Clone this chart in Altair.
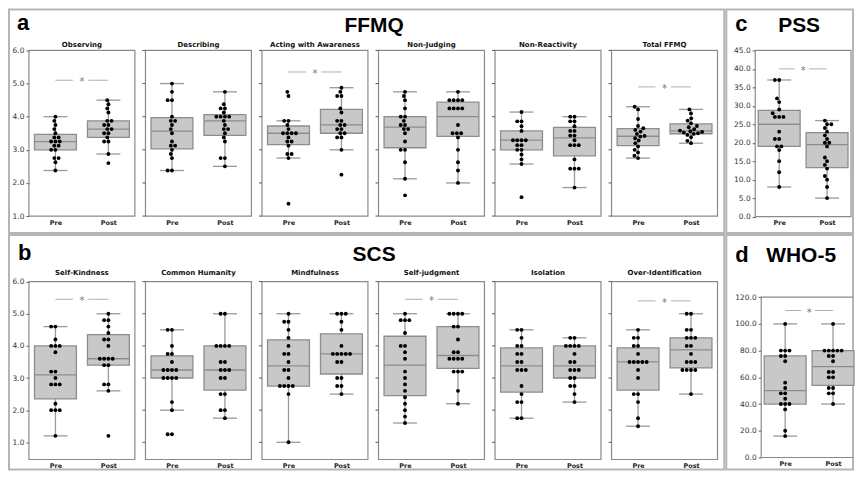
import numpy as np
import pandas as pd
import altair as alt

# ---------------- data ----------------
ffmq_names = ["Observing", "Describing", "Acting with Awareness", "Non-Judging", "Non-Reactivity", "Total FFMQ"]
observing_pre = [4.0, 3.875, 3.75, 3.625, 3.5, 3.375, 3.375, 3.25, 3.25, 3.25, 3.125, 3.125, 3.0, 3.0, 2.75, 2.75, 2.625, 2.375]
observing_post = [4.5, 4.375, 4.25, 4.125, 3.875, 3.875, 3.75, 3.75, 3.625, 3.625, 3.5, 3.5, 3.375, 3.25, 3.25, 2.875, 2.6]
describing_pre = [5.0, 4.75, 4.5, 4.5, 4.0, 3.875, 3.875, 3.75, 3.625, 3.5, 3.25, 3.125, 3.125, 3.0, 2.875, 2.75, 2.375, 2.375]
describing_post = [4.75, 4.375, 4.25, 4.25, 4.125, 4.0, 4.0, 4.0, 4.0, 3.875, 3.75, 3.625, 3.625, 3.5, 3.375, 3.25, 2.75, 2.75, 2.5]
acting_pre = [4.75, 4.625, 3.875, 3.875, 3.75, 3.625, 3.5, 3.5, 3.5, 3.5, 3.375, 3.25, 3.25, 3.125, 2.875, 2.875, 2.75, 1.375]
acting_post = [4.875, 4.75, 4.625, 4.625, 4.25, 4.125, 3.875, 3.875, 3.75, 3.75, 3.625, 3.625, 3.5, 3.5, 3.375, 3.375, 3.0, 2.25]
nonjudging_pre = [4.75, 4.625, 4.5, 4.25, 4.0, 4.0, 3.875, 3.75, 3.75, 3.625, 3.625, 3.5, 3.25, 3.0, 3.0, 2.625, 2.125, 1.625]
nonjudging_post = [4.75, 4.5, 4.5, 4.5, 4.5, 4.25, 4.25, 4.25, 4.25, 3.75, 3.5, 3.5, 3.5, 3.375, 3.0, 2.625, 2.375, 2.0]
nonreact_pre = [4.14, 3.86, 3.86, 3.71, 3.57, 3.29, 3.29, 3.29, 3.29, 3.14, 3.14, 3.0, 3.0, 2.86, 2.71, 2.57, 1.57]
nonreact_post = [4.0, 4.0, 3.86, 3.86, 3.71, 3.57, 3.57, 3.43, 3.43, 3.29, 3.14, 3.14, 3.14, 2.71, 2.43, 2.43, 2.43, 1.86]
total_pre = [4.3, 4.22, 3.93, 3.72, 3.65, 3.6, 3.55, 3.48, 3.42, 3.4, 3.35, 3.28, 3.2, 3.1, 3.0, 2.92, 2.82, 2.75]
total_post = [4.22, 4.1, 3.95, 3.88, 3.8, 3.72, 3.68, 3.62, 3.58, 3.56, 3.54, 3.52, 3.5, 3.48, 3.45, 3.38, 3.27, 3.2]
ffmq_sig = {"Observing": 5.1, "Acting with Awareness": 5.35, "Total FFMQ": 4.9}

scs_names = ["Self-Kindness", "Common Humanity", "Mindfulness", "Self-judgment", "Isolation", "Over-Identification"]
sk_pre = [4.6, 4.6, 4.2, 4.0, 4.0, 4.0, 3.8, 3.2, 3.2, 3.0, 2.8, 2.8, 2.8, 2.2, 2.0, 2.0, 2.0, 1.2]
sk_post = [5.0, 4.8, 4.8, 4.6, 4.4, 4.2, 4.2, 4.0, 3.6, 3.6, 3.6, 3.6, 3.4, 3.4, 2.8, 2.8, 2.6, 1.2]
ch_pre = [4.5, 4.5, 4.0, 3.75, 3.75, 3.5, 3.25, 3.25, 3.25, 3.25, 3.0, 3.0, 3.0, 3.0, 2.25, 2.0, 1.25, 1.25]
ch_post = [5.0, 5.0, 4.0, 4.0, 4.0, 4.0, 3.5, 3.5, 3.25, 3.25, 3.25, 3.0, 3.0, 2.5, 2.5, 2.0, 2.0, 1.75]
mi_pre = [5.0, 4.75, 4.75, 4.5, 4.25, 4.0, 3.75, 3.75, 3.5, 3.25, 3.25, 3.0, 2.75, 2.75, 2.75, 2.75, 2.5, 1.0]
mi_post = [5.0, 5.0, 5.0, 4.75, 4.5, 4.0, 3.75, 3.75, 3.75, 3.75, 3.75, 3.5, 3.5, 3.0, 3.0, 2.75, 2.75, 2.5]
sj_pre = [5.0, 4.8, 4.8, 4.8, 4.4, 4.0, 4.0, 3.8, 3.6, 3.2, 3.0, 2.8, 2.6, 2.4, 2.2, 2.0, 1.8, 1.6]
sj_post = [5.0, 5.0, 5.0, 5.0, 4.6, 4.6, 4.2, 3.8, 3.8, 3.6, 3.6, 3.6, 3.6, 3.2, 3.2, 3.2, 2.6, 2.2]
is_pre = [4.5, 4.5, 4.25, 4.0, 4.0, 3.75, 3.75, 3.5, 3.5, 3.25, 3.25, 3.25, 2.75, 2.5, 2.25, 2.25, 1.75, 1.75]
is_post = [4.25, 4.25, 4.0, 4.0, 4.0, 4.0, 3.75, 3.5, 3.5, 3.25, 3.25, 3.25, 3.0, 3.0, 2.75, 2.75, 2.5, 2.25]
oi_pre = [4.5, 4.25, 4.25, 4.0, 4.0, 3.75, 3.5, 3.5, 3.5, 3.5, 3.5, 3.25, 3.0, 2.5, 2.5, 2.25, 1.75, 1.5]
oi_post = [5.0, 5.0, 4.5, 4.5, 4.25, 4.25, 4.25, 4.0, 4.0, 3.75, 3.5, 3.5, 3.5, 3.25, 3.25, 3.25, 3.25, 2.5]
scs_sig = {"Self-Kindness": 5.45, "Self-judgment": 5.45, "Over-Identification": 5.4}

pss_pre = [37, 37, 32, 31, 29, 28, 27, 27, 27, 23, 21, 21, 19, 19, 18, 15, 12, 8]
pss_post = [26, 25, 25, 24, 23, 22, 21, 20, 20, 19, 16, 15, 14, 13, 11, 10, 8, 5]
pss_sig = {"PSS": 40}

who_pre = [100, 80, 80, 80, 76, 76, 72, 56, 52, 48, 48, 44, 40, 40, 40, 36, 20, 16]
who_post = [100, 80, 80, 80, 80, 80, 76, 76, 72, 64, 64, 60, 60, 52, 52, 48, 48, 40]
who_sig = {"WHO-5": 110}

time_labels = ["Pre", "Post"]

# ---------------- helpers ----------------
DOT_D = 4.3  # swarm spacing in px


def swarm_offsets(vals, ypx, d=DOT_D):
    vals = np.asarray(vals, float)
    order = np.argsort(vals, kind="stable")
    placed = []
    out = np.zeros(len(vals))
    for idx in order:
        y = vals[idx] * ypx
        neigh = [(py, px) for py, px in placed if abs(py - y) < d]
        cands = [0.0]
        for py, px in neigh:
            dx = np.sqrt(max(d * d - (py - y) ** 2, 0.0))
            cands += [px - dx, px + dx]
        cands.sort(key=lambda c: (round(abs(c), 6), c))
        for c in cands:
            if all((c - px) ** 2 + (y - py) ** 2 >= d * d - 1e-6 for py, px in neigh):
                out[idx] = c
                break
        placed.append((y, out[idx]))
    return out


def box_stats(vals):
    v = np.asarray(vals, float)
    q1, med, q3 = np.percentile(v, [25, 50, 75])
    iqr = q3 - q1
    lo = v[v >= q1 - 1.5 * iqr].min()
    hi = v[v <= q3 + 1.5 * iqr].max()
    return q1, med, q3, lo, hi


PITCH = 2.2
BOX_C = "#c8c8c8"
EDGE_C = "#8d8d8d"
WHISK_C = "#9a9a9a"


def section(names, pre, post, sig, ylo, yhi, yticks, W, H, pl, pt, pb, upx,
            letter, title, lpos, tpos, ptitle_y=None, bw_px=21.0, cap_px=12.0):
    sy = (pb - pt) / (yhi - ylo)
    ydom = [ylo - (H - pb) / sy, yhi + pt / sy]
    x0 = -(pl + 0.5 * upx) / upx
    xdom = [x0, x0 + W / upx]
    xs = alt.Scale(domain=xdom, nice=False, zero=False, padding=0)
    ys = alt.Scale(domain=ydom, nice=False, zero=False, padding=0)
    bw, cw = bw_px / upx, cap_px / upx

    xvals, pts, st, fr, sg, tk = [], [], [], [], [], []
    for i, name in enumerate(names):
        base = i * PITCH
        for k, vals in enumerate((pre[i], post[i])):
            c = base + k
            xvals.append(round(c, 4))
            off = swarm_offsets(vals, sy) / upx
            for v, o in zip(vals, off):
                pts.append({"panel": name, "time": time_labels[k], "xp": c + o, "value": v})
            q1, med, q3, lo, hi = box_stats(vals)
            st.append(dict(c=c, bl=c - bw, br=c + bw, cl=c - cw, cr=c + cw,
                           q1=q1, med=med, q3=q3, lo=lo, hi=hi))
        fr.append(dict(name=name, l=base - 0.5, r=base + 1.5, cx=base + 0.5, yb=ylo, yt=yhi))
        if name in sig:
            sg.append(dict(a1=base, a2=base + 0.33, b1=base + 0.62, b2=base + 1.0,
                           sx=base + 0.5, y=sig[name]))
        if i > 0:
            for t in yticks:
                tk.append(dict(t1=base - 0.5, t2=base - 0.5 - 3.0 / upx, y=t))

    xax = alt.Axis(values=xvals, orient="bottom", offset=-(H - pb), domain=False, ticks=False,
                   grid=False, labelExpr=f"abs(datum.value - round(datum.value/{PITCH})*{PITCH}) < 0.5 ? 'Pre' : 'Post'",
                   labelFont="DejaVu Sans", labelFontWeight="bold", labelFontSize=6.5,
                   labelColor="#222222", labelPadding=3, labelFlush=False, labelOverlap=False, title=None)
    yax = alt.Axis(values=yticks, format=".1f", orient="left", offset=-pl, domain=False,
                   ticks=True, tickSize=3, tickColor="#555555", grid=False,
                   labelFont="DejaVu Sans", labelFontSize=7.5, labelColor="#333333",
                   labelPadding=2, labelFlush=False, labelOverlap=False, title=None)

    def X(f):
        return alt.X(f, type="quantitative", scale=xs, axis=xax)

    def Y(f):
        return alt.Y(f, type="quantitative", scale=ys, axis=yax)

    frdf, stdf, ptdf = pd.DataFrame(fr), pd.DataFrame(st), pd.DataFrame(pts)
    layers = []
    layers.append(alt.Chart(frdf).mark_rect(fillOpacity=0, stroke="#8a8a8a", strokeWidth=1.2, clip=True)
                  .encode(x=X("l"), x2="r", y=Y("yb"), y2="yt"))
    if tk:
        layers.append(alt.Chart(pd.DataFrame(tk)).mark_rule(color="#555555", strokeWidth=1)
                      .encode(x=X("t1"), x2="t2", y=Y("y")))
    layers.append(alt.Chart(stdf).mark_rule(color=WHISK_C, strokeWidth=1.3)
                  .encode(x=X("c"), y=Y("lo"), y2="hi"))
    layers.append(alt.Chart(stdf).mark_rect(fill=BOX_C, stroke=EDGE_C, strokeWidth=1.3)
                  .encode(x=X("bl"), x2="br", y=Y("q1"), y2="q3"))
    layers.append(alt.Chart(stdf).mark_rule(color=EDGE_C, strokeWidth=1.3)
                  .encode(x=X("bl"), x2="br", y=Y("med")))
    layers.append(alt.Chart(stdf).mark_rule(color=WHISK_C, strokeWidth=1.3)
                  .encode(x=X("cl"), x2="cr", y=Y("lo")))
    layers.append(alt.Chart(stdf).mark_rule(color=WHISK_C, strokeWidth=1.3)
                  .encode(x=X("cl"), x2="cr", y=Y("hi")))
    layers.append(alt.Chart(ptdf).mark_circle(size=15, color="black", opacity=1)
                  .encode(x=X("xp"), y=Y("value")))
    if sg:
        sgdf = pd.DataFrame(sg)
        layers.append(alt.Chart(sgdf).mark_rule(color="#b0b0b0", strokeWidth=1)
                      .encode(x=X("a1"), x2="a2", y=Y("y")))
        layers.append(alt.Chart(sgdf).mark_rule(color="#b0b0b0", strokeWidth=1)
                      .encode(x=X("b1"), x2="b2", y=Y("y")))
        layers.append(alt.Chart(sgdf).mark_text(text="*", font="DejaVu Sans", fontSize=10,
                                                color="#777777", baseline="middle", dy=2)
                      .encode(x=X("sx"), y=Y("y")))
    if ptitle_y is not None:
        layers.append(alt.Chart(frdf).mark_text(font="DejaVu Sans", fontWeight="bold", fontSize=7,
                                                color="#111111", baseline="alphabetic")
                      .encode(x=X("cx"), y=alt.value(ptitle_y), text="name:N"))
    layers.append(alt.Chart(pd.DataFrame({"t": [letter]}))
                  .mark_text(font="Liberation Sans", fontWeight="bold", fontSize=22, align="left",
                             baseline="alphabetic", color="black")
                  .encode(x=alt.value(lpos[0]), y=alt.value(lpos[1]), text="t:N"))
    layers.append(alt.Chart(pd.DataFrame({"t": [title]}))
                  .mark_text(font="Liberation Sans", fontWeight="bold", fontSize=21, align="center",
                             baseline="alphabetic", color="black")
                  .encode(x=alt.value(tpos[0]), y=alt.value(tpos[1]), text="t:N"))
    return alt.layer(*layers).properties(width=W, height=H)


A = section(ffmq_names,
            [observing_pre, describing_pre, acting_pre, nonjudging_pre, nonreact_pre, total_pre],
            [observing_post, describing_post, acting_post, nonjudging_post, nonreact_post, total_post],
            ffmq_sig, 1.0, 6.0, [1, 2, 3, 4, 5, 6], 717, 224, 20, 41, 207, 53.09,
            "a", "FFMQ", (8, 21), (366, 22.5), ptitle_y=37.5)
C = section(["PSS"], [pss_pre], [pss_post], pss_sig, 0.0, 45.0,
            [0, 5, 10, 15, 20, 25, 30, 35, 40, 45], 127, 224, 29, 41, 207.5, 48,
            "c", "PSS", (9, 22), (73, 22.5))
B = section(scs_names,
            [sk_pre, ch_pre, mi_pre, sj_pre, is_pre, oi_pre],
            [sk_post, ch_post, mi_post, sj_post, is_post, oi_post],
            scs_sig, 0.465, 6.0, [1, 2, 3, 4, 5, 6], 717, 235, 20, 46.7, 225, 53.09,
            "b", "SCS", (9, 25), (366, 26), ptitle_y=40.5)
D = section(["WHO-5"], [who_pre], [who_post], who_sig, 0.0, 120.0,
            [0, 20, 40, 60, 80, 100, 120], 127, 235, 35, 62.3, 223, 48,
            "d", "WHO-5", (9, 26.7), (75, 26.7))

chart = alt.vconcat(
    alt.hconcat(A, C, spacing=0),
    alt.hconcat(B, D, spacing=0),
    spacing=0,
).properties(padding=0).configure_view(stroke="#b5b5b5", strokeWidth=2)

chart.save("out.html", embed_options={"renderer": "svg", "actions": False})
